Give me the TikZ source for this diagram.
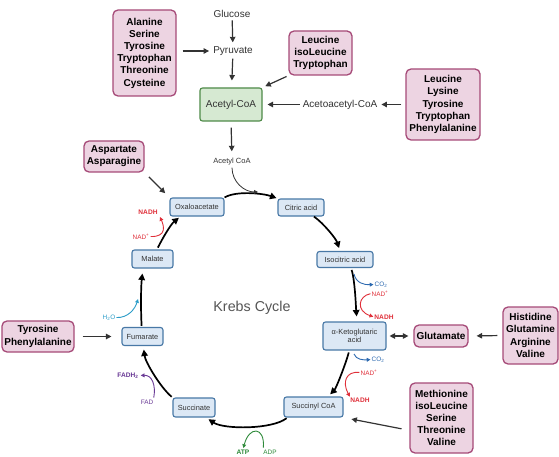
\documentclass[tikz,border=0pt]{standalone}
\usepackage{fontspec}
\setmainfont{Liberation Sans}
\usetikzlibrary{arrows.meta}
\definecolor{pinkfill}{HTML}{EDD4E2}
\definecolor{pinkdraw}{HTML}{A64A78}
\definecolor{bluefill}{HTML}{DCE8F5}
\definecolor{bluedraw}{HTML}{4878A6}
\definecolor{greenfill}{HTML}{D6E9D2}
\definecolor{greendraw}{HTML}{4E8A48}
\definecolor{redc}{HTML}{E0303A}
\definecolor{bluec}{HTML}{2C69B0}
\definecolor{cyanc}{HTML}{2A9CC8}
\definecolor{purplec}{HTML}{6A3A96}
\definecolor{greenc}{HTML}{2E8A3A}
\definecolor{textgray}{HTML}{333333}
\definecolor{titlegray}{HTML}{555555}
\begin{document}
\begin{tikzpicture}[x=1pt,y=-1pt,
 pinkbox/.style={draw=pinkdraw, fill=pinkfill, line width=1.3pt, rounded corners=5pt, align=center, font=\fontsize{10}{12.2}\selectfont\bfseries, inner sep=0pt},
 bluebox/.style={draw=bluedraw, fill=bluefill, line width=1.1pt, rounded corners=2.5pt, align=center, font=\fontsize{7.4}{8.6}\selectfont, inner sep=0pt, text=textgray},
 lbl/.style={font=\fontsize{10}{12}\selectfont, inner sep=0pt, text=textgray},
 conn/.style={draw=textgray, line width=1.2pt, -{Triangle[length=5.5pt,width=5.5pt]}},
 cyc/.style={draw=black, line width=1.7pt, -{Triangle[length=6.5pt,width=6.5pt]}},
 side/.style={line width=0.9pt, -{Triangle[length=3.8pt,width=3.8pt]}},
 small/.style={font=\fontsize{6.4}{7}\selectfont, inner sep=0pt},
 smallb/.style={font=\fontsize{6.6}{7}\selectfont\bfseries, inner sep=0pt},
]
\useasboundingbox[fill=white] (0,0) rectangle (559,457);

% top pathway
\node[lbl] (glu) at (232,13.5) {Glucose};
\node[lbl] (pyr) at (233,51) {Pyruvate};
\node[draw=greendraw, fill=greenfill, line width=1.1pt, rounded corners=2.5pt, minimum width=62pt, minimum height=33pt, inner sep=0pt, font=\fontsize{10}{12}\selectfont, text=textgray] (acoa) at (231,104.5) {Acetyl-CoA};
\node[lbl] (aca) at (340,104.5) {Acetoacetyl-CoA};
\node[font=\fontsize{7.5}{9}\selectfont, inner sep=0pt, text=textgray] (acs) at (232,162) {Acetyl CoA};

% pink boxes
\node[pinkbox, minimum width=63pt, minimum height=86pt] (ala) at (144.5,53) {Alanine\\Serine\\Tyrosine\\Tryptophan\\Threonine\\Cysteine};
\node[pinkbox, minimum width=63pt, minimum height=44pt] (leu3) at (320.5,53) {Leucine\\isoLeucine\\Tryptophan};
\node[pinkbox, minimum width=74pt, minimum height=71pt] (leu5) at (443,104.5) {Leucine\\Lysine\\Tyrosine\\Tryptophan\\Phenylalanine};
\node[pinkbox, minimum width=60pt, minimum height=31pt] (asp) at (114,156.5) {Aspartate\\Asparagine};
\node[pinkbox, minimum width=72pt, minimum height=31pt] (tyr) at (38,336.5) {Tyrosine\\Phenylalanine};
\node[pinkbox, minimum width=54pt, minimum height=22pt] (glut) at (441,336) {Glutamate};
\node[pinkbox, minimum width=55pt, minimum height=57pt] (his) at (530.5,335.5) {Histidine\\Glutamine\\Arginine\\Valine};
\node[pinkbox, minimum width=63pt, minimum height=70pt] (met) at (441.5,418) {Methionine\\isoLeucine\\Serine\\Threonine\\Valine};

% cycle boxes
\node[bluebox, minimum width=54pt, minimum height=18pt] (oxa) at (197,207) {Oxaloacetate};
\node[bluebox, minimum width=46pt, minimum height=17pt] (cit) at (301,207.5) {Citric acid};
\node[bluebox, minimum width=56pt, minimum height=16pt] (iso) at (345,259.5) {Isocitric acid};
\node[bluebox, minimum width=63pt, minimum height=28pt] (akg) at (354.5,336) {α-Ketoglutaric\\acid};
\node[bluebox, minimum width=59pt, minimum height=20pt] (sca) at (313.5,407) {Succinyl CoA};
\node[bluebox, minimum width=42pt, minimum height=19pt] (suc) at (194,407.5) {Succinate};
\node[bluebox, minimum width=41pt, minimum height=18pt] (fum) at (142.5,336.5) {Fumarate};
\node[bluebox, minimum width=41pt, minimum height=18pt] (mal) at (152.5,259) {Malate};

\node[font=\fontsize{14.3}{16}\selectfont, text=titlegray, inner sep=0pt] (title) at (252,308) {Krebs Cycle};

% top connectors
\draw[conn, shorten <=3pt, shorten >=4pt] (glu) -- (pyr);
\draw[conn, shorten <=3pt, shorten >=7pt] (pyr) -- (acoa);
\draw[conn, shorten <=6pt, shorten >=4pt] (ala.east |- pyr) -- (pyr.west);
\draw[conn, shorten <=2pt, shorten >=3pt] (leu3.south west) -- (acoa.north east);
\draw[conn, shorten <=3pt, shorten >=5pt] (aca.west) -- (acoa.east);
\draw[conn, shorten <=4pt, shorten >=4pt] (leu5.west |- aca) -- (aca.east);
\draw[conn, shorten <=6pt, shorten >=7pt] (acoa.south) -- (acs.north);
\draw[conn, shorten <=6pt, shorten >=6pt] (asp.south east) -- (oxa.north west);
\draw[conn, shorten <=8pt, shorten >=10pt] (tyr.east) -- (fum.west);
\draw[conn, shorten <=5pt, shorten >=8pt] (his.west) -- (glut.east);
\draw[draw=textgray, line width=1.2pt, {Triangle[length=5.5pt,width=5.5pt]}-{Triangle[length=5.5pt,width=5.5pt]}, shorten <=3pt, shorten >=5pt] (akg.east) -- (glut.west);
\draw[conn, shorten <=8pt, shorten >=8pt] (met.201) -- (sca.south east);

% cycle arrows
\coordinate (join) at (258,192);
\draw[cyc, shorten >=1pt] (oxa.north east) .. controls +(12,-7) and +(-14,-5) .. (cit.north west);
\draw[draw=textgray, line width=0.8pt, -{Triangle[length=3.8pt,width=3.8pt]}, shorten <=2pt] (acs.south) .. controls +(0,16) and +(-14,0) .. (join);
\draw[cyc, shorten >=3pt] (cit.-35) .. controls +(10,7) and +(-4,-12) .. (iso.120);
\draw[cyc, shorten <=2pt, shorten >=5pt] (iso.-55) .. controls +(4,12) and +(-1,-12) .. (akg.80);
\draw[cyc, shorten <=2pt, shorten >=3pt] (akg.-110) .. controls +(-3,12) and +(8,-8) .. (sca.36);
\draw[cyc, shorten <=1pt, shorten >=3pt] (sca.-158) .. controls +(-15,12) and +(18,12) .. (suc.-40);
\draw[cyc, shorten <=1pt, shorten >=3.5pt] (suc.north west) .. controls +(-12,-10) and +(2,16) .. (fum.-85);
\draw[cyc, shorten <=1pt, shorten >=5pt] (fum.95) .. controls +(-1,-18) and +(-2,18) .. (mal.-135);
\draw[cyc, shorten <=2pt, shorten >=2pt] (mal.65) .. controls +(5,-10) and +(-10,8) .. (oxa.-150);

% side reactions: isocitric -> aKG
\node[small, text=bluec] (co2a) at (381,284.5) {CO\textsubscript{2}};
\node[small, text=redc] (nad1) at (380,293.5) {NAD\textsuperscript{+}};
\node[smallb, text=redc] (nadh1) at (384,317) {NADH};
\coordinate (b1) at (354,274);
\draw[side, bluec, shorten >=1pt] (b1) .. controls (356,283) and (364,285) .. (co2a.west);
\draw[side, redc, shorten <=1pt, shorten >=1pt] (nad1.west) .. controls (358,296) and (356,311) .. (nadh1.west);

% side reactions: aKG -> succinyl CoA
\node[small, text=bluec] (co2b) at (378,359.5) {CO\textsubscript{2}};
\node[small, text=redc] (nad2) at (369,372.5) {NAD\textsuperscript{+}};
\node[smallb, text=redc] (nadh2) at (360,400) {NADH};
\coordinate (b2) at (354,354);
\draw[side, bluec, shorten >=1pt] (b2) .. controls (356,360) and (364,360) .. (co2b.west);
\draw[side, redc, shorten <=1pt, shorten >=1pt] (nad2.west) .. controls (346,371) and (342,382) .. (nadh2.north west);

% malate -> oxaloacetate
\node[small, text=redc] (nad3) at (141,236.5) {NAD\textsuperscript{+}};
\node[smallb, text=redc] (nadh3) at (148,212.5) {NADH};
\coordinate (t3) at (160,217);
\draw[side, redc, shorten <=1pt] (nad3.east) .. controls (167,237) and (164,226) .. (t3);

% fumarate -> malate
\node[small, text=cyanc] (h2o) at (109,317.5) {H\textsubscript{2}O};
\coordinate (t4) at (138,299);
\draw[side, cyanc, shorten <=1pt] (h2o.east) .. controls (128,318) and (135,309) .. (t4);

% succinate -> fumarate
\node[small, text=purplec] (fad) at (147,402) {FAD};
\node[smallb, text=purplec] (fadh2) at (128,375.5) {FADH\textsubscript{2}};
\draw[side, purplec, shorten <=2pt, shorten >=2pt] (fad.north east) .. controls (156,385) and (152,375) .. (fadh2.east);

% succinyl CoA -> succinate
\node[small, text=greenc] (adp) at (270,452) {ADP};
\node[smallb, text=greenc] (atp) at (243,452) {ATP};
\draw[side, greenc, shorten <=2pt, shorten >=1.5pt] (adp.north west) .. controls (265,426) and (249,426) .. (atp.north);
\end{tikzpicture}
\end{document}
